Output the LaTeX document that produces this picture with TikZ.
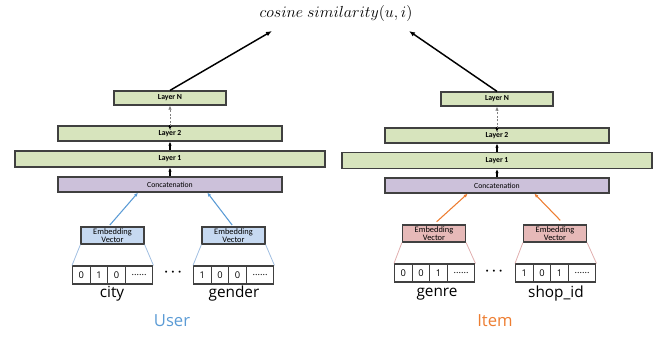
\documentclass[tikz,border=0pt]{standalone}
\usepackage{fontspec}
\setmainfont{Carlito}
\newfontfamily\labelfont{Open Sans}
\usetikzlibrary{arrows.meta}

\definecolor{layergreen}{RGB}{215,228,189}
\definecolor{catpurple}{RGB}{204,193,218}
\definecolor{embblue}{RGB}{198,217,241}
\definecolor{embpink}{RGB}{230,185,184}
\definecolor{edgegray}{RGB}{64,64,64}
\definecolor{userblue}{RGB}{91,155,213}
\definecolor{itemorange}{RGB}{237,125,49}
\definecolor{userline}{RGB}{160,190,225}
\definecolor{itemline}{RGB}{225,175,175}

\tikzset{every picture/.style={line width=0.75pt}}
\tikzset{
  boxbase/.style={draw=edgegray, line width=0.9pt, inner sep=0pt, align=center},
  layer/.style={boxbase, fill=layergreen, font=\fontsize{5.8}{6}\selectfont\bfseries},
  concat/.style={boxbase, fill=catpurple, font=\fontsize{5.8}{6}\selectfont},
  userembed/.style={boxbase, fill=embblue, minimum width=47.25pt, minimum height=12.75pt, font=\fontsize{6.3}{6.3}\selectfont},
  itemembed/.style={boxbase, fill=embpink, minimum width=47.25pt, minimum height=12.75pt, font=\fontsize{6.3}{6.3}\selectfont},
  cell/.style={draw=edgegray, line width=0.9pt, inner sep=0pt, anchor=west, minimum width=13.2pt, minimum height=13.5pt, font=\labelfont\fontsize{7}{7}\selectfont},
  dotcell/.style={cell, minimum width=20.6pt},
  featlabel/.style={font=\labelfont\fontsize{11.5}{12}\selectfont},
  skipdots/.style={font=\fontsize{10}{10}\selectfont\boldmath},
  up/.style={-{Latex[length=3pt,width=2.6pt]}, line width=0.8pt},
  skipline/.style={up, gray, line width=0.5pt, dash pattern=on 1.5pt off 1.2pt},
  towardsim/.style={-{Latex[length=4.5pt,width=3.6pt]}, line width=1.1pt},
}

\begin{document}
\begin{tikzpicture}[x=0.75pt,y=0.75pt,yscale=-1,xscale=1]
  \useasboundingbox (0,0) rectangle (661,336);

  % Text Node
  \node (sim) at (336,13) {\fontsize{13}{14}\selectfont $cosine\ similarity(u,i)$};
  \coordinate (simL) at (272,31);
  \coordinate (simR) at (409,31);

  %Shape: Rectangle -- user tower
  \node [layer, minimum width=84pt, minimum height=10.5pt] (uLN) at (170,98) {Layer N};
  \node [layer, minimum width=168pt, minimum height=11.25pt] (uL2) at (170,133.5) {Layer 2};
  \node [layer, minimum width=232.5pt, minimum height=12pt] (uL1) at (170,159) {Layer 1};
  \node [concat, minimum width=168pt, minimum height=11.25pt] (uCat) at (170,184.5) {Concatenation};
  \node [userembed] (uEmbA) at (112.5,235.5) {Embedding\\Vector};
  \node [userembed] (uEmbB) at (233.5,235.5) {Embedding\\Vector};

  %Shape: Rectangle -- item tower
  \node [layer, minimum width=84pt, minimum height=10.5pt] (iLN) at (497,99) {Layer N};
  \node [layer, minimum width=168pt, minimum height=11.25pt] (iL2) at (497,135.5) {Layer 2};
  \node [layer, minimum width=232.5pt, minimum height=12pt] (iL1) at (497,160.5) {Layer 1};
  \node [concat, minimum width=168pt, minimum height=11.25pt] (iCat) at (497,185.5) {Concatenation};
  \node [itemembed] (iEmbA) at (434,233.5) {Embedding\\Vector};
  \node [itemembed] (iEmbB) at (555,233.5) {Embedding\\Vector};

  %Shape: One-hot cells -- city
  \node [cell] (cityA) at (72,275) {0};
  \node [cell] (cityB) at (89.6,275) {1};
  \node [cell] (cityC) at (107.2,275) {0};
  \node [dotcell] (cityD) at (124.8,275) {......};
  %Shape: One-hot cells -- gender
  \node [cell] (genderA) at (193,275) {1};
  \node [cell] (genderB) at (210.6,275) {0};
  \node [cell] (genderC) at (228.2,275) {0};
  \node [dotcell] (genderD) at (245.8,275) {......};
  %Shape: One-hot cells -- genre
  \node [cell] (genreA) at (394,273) {0};
  \node [cell] (genreB) at (411.6,273) {0};
  \node [cell] (genreC) at (429.2,273) {1};
  \node [dotcell] (genreD) at (446.8,273) {......};
  %Shape: One-hot cells -- shop_id
  \node [cell] (shopA) at (515,273) {1};
  \node [cell] (shopB) at (532.6,273) {0};
  \node [cell] (shopC) at (550.2,273) {1};
  \node [dotcell] (shopD) at (567.8,273) {......};

  % Text Node
  \node [skipdots] (uDots) at (173,272) {$\cdots$};
  \node [skipdots] (iDots) at (494,271) {$\cdots$};
  \node [featlabel] (city) at (112,294) {city};
  \node [featlabel] (gender) at (234,294) {gender};
  \node [featlabel] (genre) at (437,294) {genre};
  \node [featlabel] (shopid) at (556,294) {shop\_id};
  \node [font=\labelfont\fontsize{12.5}{13}\selectfont, text=userblue] (user) at (172,321) {User};
  \node [font=\labelfont\fontsize{12.5}{13}\selectfont, text=itemorange] (item) at (495,321) {Item};

  %Straight Lines -- embedding to one-hot
  \draw [userline, line width=0.6pt] (uEmbA.south west) -- (cityA.north west);
  \draw [userline, line width=0.6pt] (uEmbA.south east) -- (cityD.north east);
  \draw [userline, line width=0.6pt] (uEmbB.south west) -- (genderA.north west);
  \draw [userline, line width=0.6pt] (uEmbB.south east) -- (genderD.north east);
  \draw [itemline, line width=0.6pt] (iEmbA.south west) -- (genreA.north west);
  \draw [itemline, line width=0.6pt] (iEmbA.south east) -- (genreD.north east);
  \draw [itemline, line width=0.6pt] (iEmbB.south west) -- (shopA.north west);
  \draw [itemline, line width=0.6pt] (iEmbB.south east) -- (shopD.north east);

  %Straight Lines -- embedding to concatenation
  \draw [up, userblue] ([xshift=-2pt,yshift=-1pt]uEmbA.north) -- ([xshift=-24pt]uCat.south);
  \draw [up, userblue] ([xshift=-1pt,yshift=-1pt]uEmbB.north) -- ([xshift=28pt]uCat.south);
  \draw [up, itemorange] ([xshift=2pt,yshift=-2pt]iEmbA.north) -- ([xshift=-22pt]iCat.south);
  \draw [up, itemorange] ([xshift=4pt,yshift=-3pt]iEmbB.north) -- ([xshift=28pt]iCat.south);

  %Straight Lines -- between layers
  \draw [up] (uCat) -- (uL1);
  \draw [up] (uL1) -- (uL2);
  \draw [up] (uL2.north) -- ([yshift=3.5pt]uL2.north);
  \draw [skipline] ([yshift=3.5pt]uL2.north) -- (uLN.south);
  \draw [up] (iCat) -- (iL1);
  \draw [up] (iL1) -- (iL2);
  \draw [up] (iL2.north) -- ([yshift=3.5pt]iL2.north);
  \draw [skipline] ([yshift=3.5pt]iL2.north) -- (iLN.south);

  %Straight Lines -- towers to similarity
  \draw [towardsim] (uLN.north) -- (simL);
  \draw [towardsim] (iLN.north) -- (simR);

\end{tikzpicture}
\end{document}
